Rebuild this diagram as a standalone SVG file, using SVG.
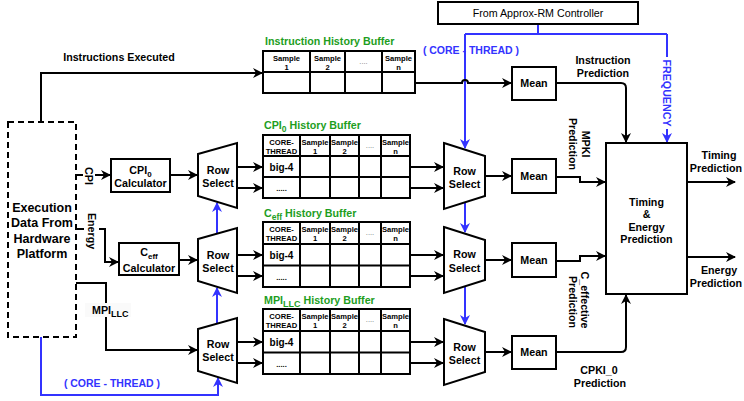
<svg xmlns="http://www.w3.org/2000/svg" width="744" height="401" viewBox="0 0 744 401">
<defs>
<marker id="ab" viewBox="0 0 10 10" refX="9" refY="5" markerWidth="10" markerHeight="10" markerUnits="userSpaceOnUse" orient="auto"><path d="M0,0 L10,5 L0,10 L3,5 z" fill="#000"/></marker>
<marker id="au" viewBox="0 0 10 10" refX="9" refY="5" markerWidth="10" markerHeight="10" markerUnits="userSpaceOnUse" orient="auto"><path d="M0,0 L10,5 L0,10 L3,5 z" fill="#3333ff"/></marker>
<style>
.ln{fill:none;stroke:#000;stroke-width:2}
.bl{fill:none;stroke:#3333ff;stroke-width:2}
.box{fill:#fff;stroke:#000;stroke-width:2}
.t{font-family:"Liberation Sans",Arial,sans-serif;font-weight:bold;font-size:10.7px;text-anchor:middle;fill:#000}
.r{font-family:"Liberation Sans",Arial,sans-serif;font-size:10.7px;text-anchor:middle;fill:#000}
.g{font-family:"Liberation Sans",Arial,sans-serif;font-weight:bold;font-size:10.7px;fill:#1e9e1e}
.h{font-family:"Liberation Sans",Arial,sans-serif;font-weight:bold;font-size:7.6px;text-anchor:middle;fill:#000}
.d{font-family:"Liberation Sans",Arial,sans-serif;font-size:7.6px;text-anchor:middle;fill:#777}
.b{font-family:"Liberation Sans",Arial,sans-serif;font-weight:bold;font-size:10.5px;text-anchor:middle;fill:#3333ff}
.x{font-family:"Liberation Sans",Arial,sans-serif;font-weight:bold;font-size:12.5px;text-anchor:middle;fill:#000}
</style>
</defs>
<rect width="744" height="401" fill="#fff"/>

<g id="connectors">
<path class="ln" d="M41,122 V73 H262" marker-end="url(#ab)"/>
<path class="ln" d="M76,175 H83"/>
<path class="ln" d="M95,175 H110" marker-end="url(#ab)"/>
<path class="ln" d="M170,175 H197" marker-end="url(#ab)"/>
<path class="ln" d="M76,229 H84"/>
<path class="ln" d="M99,229 H105 V262 H118" marker-end="url(#ab)"/>
<path class="ln" d="M179,260 H197" marker-end="url(#ab)"/>
<path class="ln" d="M76,283 H106 V350 H197" marker-end="url(#ab)"/>
<path class="ln" d="M237,167 H262" marker-end="url(#ab)"/>
<path class="ln" d="M237,188 H262" marker-end="url(#ab)"/>
<path class="ln" d="M237,255 H262" marker-end="url(#ab)"/>
<path class="ln" d="M237,276 H262" marker-end="url(#ab)"/>
<path class="ln" d="M237,342 H262" marker-end="url(#ab)"/>
<path class="ln" d="M237,363 H262" marker-end="url(#ab)"/>
<path class="ln" d="M410,167 H443" marker-end="url(#ab)"/>
<path class="ln" d="M410,188 H443" marker-end="url(#ab)"/>
<path class="ln" d="M410,255 H443" marker-end="url(#ab)"/>
<path class="ln" d="M410,276 H443" marker-end="url(#ab)"/>
<path class="ln" d="M410,342 H443" marker-end="url(#ab)"/>
<path class="ln" d="M410,363 H443" marker-end="url(#ab)"/>
<path class="ln" d="M485,176 H511" marker-end="url(#ab)"/>
<path class="ln" d="M485,260 H511" marker-end="url(#ab)"/>
<path class="ln" d="M485,352 H511" marker-end="url(#ab)"/>
<path class="ln" d="M556,177 H580 V182 H605" marker-end="url(#ab)"/>
<path class="ln" d="M556,261 H580 V256 H605" marker-end="url(#ab)"/>
<path class="ln" d="M556,83 H621 Q626,83 626,88 V142" marker-end="url(#ab)"/>
<path class="ln" d="M556,352 H621 Q626,352 626,347 V295" marker-end="url(#ab)"/>
<path class="ln" d="M687,182 H735" marker-end="url(#ab)"/>
<path class="ln" d="M687,257 H735" marker-end="url(#ab)"/>
<path class="bl" d="M538,24 V34 M465,34 H667"/>
<path class="bl" d="M465,34 V148" marker-end="url(#au)"/>
<path class="bl" d="M667,34 V142" marker-end="url(#au)"/>
<path class="bl" d="M465,203 V232" marker-end="url(#au)"/>
<path class="bl" d="M465,287 V324" marker-end="url(#au)"/>
<path class="bl" d="M217,323 V288" marker-end="url(#au)"/>
<path class="bl" d="M217,233 V203" marker-end="url(#au)"/>
<path class="bl" d="M41,337 V395 H218 V378" marker-end="url(#au)"/>
<path class="ln" d="M415,83 H462 A3,3 0 0 1 468,83 H511" marker-end="url(#ab)"/>
</g>

<g id="labels">
<text class="t" x="119" y="61">Instructions Executed</text>
<text class="t" transform="translate(89,176) rotate(90)" x="0" y="3.8">CPI</text>
<text class="t" transform="translate(92,231) rotate(90)" x="0" y="3.8">Energy</text>
<rect x="85" y="303" width="46" height="14" fill="#fafafa"/>
<text class="t" x="92" y="314" style="text-anchor:start">MPI<tspan font-size="9" dy="3">LLC</tspan></text>
<text class="b" x="112" y="387">( CORE - THREAD )</text>
<text class="b" x="471" y="54">( CORE - THREAD )</text>
<rect x="660" y="57" width="14" height="72" fill="#fff"/>
<text class="b" transform="translate(667,93) rotate(90)" x="0" y="3.8" style="font-size:10.7px">FREQUENCY</text>
<text class="t" x="603" y="64">Instruction</text>
<text class="t" x="603" y="77">Prediction</text>
<text class="t" transform="translate(586,144) rotate(90)" x="0" y="3.8">MPKI</text>
<text class="t" transform="translate(573,144) rotate(90)" x="0" y="3.8">Prediction</text>
<text class="t" transform="translate(585,300) rotate(90)" x="0" y="3.8">C_effective</text>
<text class="t" transform="translate(573,302) rotate(90)" x="0" y="3.8">Prediction</text>
<text class="t" x="599" y="374">CPKI_0</text>
<text class="t" x="600" y="387">Prediction</text>
<text class="t" x="719" y="159">Timing</text>
<text class="t" x="716" y="172">Prediction</text>
<text class="t" x="719" y="274">Energy</text>
<text class="t" x="716" y="287">Prediction</text>
</g>

<g id="exec">
<rect x="8" y="122" width="68" height="215" fill="#fff" stroke="#000" stroke-width="2" stroke-dasharray="6,4"/>
<text class="x" x="42" y="211.5">Execution</text>
<text class="x" x="42" y="227">Data From</text>
<text class="x" x="42" y="242.5">Hardware</text>
<text class="x" x="42" y="258">Platform</text>
</g>

<g id="controller">
<rect class="box" x="438" y="2" width="200" height="22"/>
<text class="r" x="538" y="17.3">From Approx-RM Controller</text>
</g>

<g id="cpi-calc">
<rect class="box" x="111" y="159" width="59" height="33"/>
<text class="t" x="140.5" y="173.5">CPI<tspan font-size="8" dy="3">0</tspan></text>
<text class="t" x="140.5" y="187">Calculator</text>
</g>

<g id="ceff-calc">
<rect class="box" x="119" y="243" width="60" height="32"/>
<text class="t" x="149" y="256">C<tspan font-size="8" dy="3">eff</tspan></text>
<text class="t" x="149" y="272">Calculator</text>
</g>

<g id="rs-l1">
<polygon class="box" points="198,154 237,143 237,208 198,196"/>
<text class="t" x="218" y="174">Row</text>
<text class="t" x="218" y="186.5">Select</text>
</g>
<g id="rs-l2">
<polygon class="box" points="198,239 237,228 237,293 198,281"/>
<text class="t" x="218" y="258.5">Row</text>
<text class="t" x="218" y="271.5">Select</text>
</g>
<g id="rs-l3">
<polygon class="box" points="198,329 237,318 237,383 198,371"/>
<text class="t" x="218" y="348">Row</text>
<text class="t" x="218" y="361">Select</text>
</g>

<g id="instr-buffer">
<text class="g" x="265" y="45">Instruction History Buffer</text>
<rect class="box" x="263" y="51" width="152" height="42"/>
<path class="ln" d="M263,72 H415 M310,51 V93 M345,51 V93 M382,51 V93"/>
<text class="h" x="286.5" y="61">Sample</text><text class="h" x="286.5" y="70">1</text>
<text class="h" x="327.5" y="61">Sample</text><text class="h" x="327.5" y="70">2</text>
<text class="d" x="363.5" y="64">....</text>
<text class="h" x="398.5" y="61">Sample</text><text class="h" x="398.5" y="70">n</text>
</g>

<g id="cpi-buffer">
<text class="g" x="264" y="129">CPI<tspan font-size="8.5" dy="3">0</tspan><tspan dy="-3"> History Buffer</tspan></text>
<rect class="box" x="263" y="135" width="147" height="63"/>
<path class="ln" d="M263,156 H410 M263,177 H410 M300,135 V198 M330,135 V198 M359,135 V198 M381,135 V198"/>
<text class="h" x="281.5" y="145">CORE-</text><text class="h" x="281.5" y="154">THREAD</text>
<text class="h" x="315" y="145">Sample</text><text class="h" x="315" y="154">1</text>
<text class="h" x="344.5" y="145">Sample</text><text class="h" x="344.5" y="154">2</text>
<text class="d" x="370" y="148">....</text>
<text class="h" x="395.5" y="145">Sample</text><text class="h" x="395.5" y="154">n</text>
<text class="t" x="281.5" y="170.5" style="font-size:10px">big-4</text>
<text class="h" x="281.5" y="191">.....</text>
</g>

<g id="ceff-buffer">
<text class="g" x="264" y="217">C<tspan font-size="8.5" dy="3">eff</tspan><tspan dy="-3"> History Buffer</tspan></text>
<rect class="box" x="263" y="222" width="147" height="65"/>
<path class="ln" d="M263,244 H410 M263,265.5 H410 M300,222 V287 M330,222 V287 M359,222 V287 M381,222 V287"/>
<text class="h" x="281.5" y="232">CORE-</text><text class="h" x="281.5" y="241">THREAD</text>
<text class="h" x="315" y="232">Sample</text><text class="h" x="315" y="241">1</text>
<text class="h" x="344.5" y="232">Sample</text><text class="h" x="344.5" y="241">2</text>
<text class="d" x="370" y="235">....</text>
<text class="h" x="395.5" y="232">Sample</text><text class="h" x="395.5" y="241">n</text>
<text class="t" x="281.5" y="258.5" style="font-size:10px">big-4</text>
<text class="h" x="281.5" y="280">.....</text>
</g>

<g id="mpi-buffer">
<text class="g" x="264" y="304">MPI<tspan font-size="9" dy="3">LLC</tspan><tspan dy="-3"> History Buffer</tspan></text>
<rect class="box" x="263" y="309" width="147" height="65"/>
<path class="ln" d="M263,331 H410 M263,352.5 H410 M300,309 V374 M330,309 V374 M359,309 V374 M381,309 V374"/>
<text class="h" x="281.5" y="319">CORE-</text><text class="h" x="281.5" y="328">THREAD</text>
<text class="h" x="315" y="319">Sample</text><text class="h" x="315" y="328">1</text>
<text class="h" x="344.5" y="319">Sample</text><text class="h" x="344.5" y="328">2</text>
<text class="d" x="370" y="322">....</text>
<text class="h" x="395.5" y="319">Sample</text><text class="h" x="395.5" y="328">n</text>
<text class="t" x="281.5" y="345.5" style="font-size:10px">big-4</text>
<text class="h" x="281.5" y="367">.....</text>
</g>

<g id="rs-r1">
<polygon class="box" points="444,143 485,156 485,196 444,209"/>
<text class="t" x="464.5" y="175">Row</text>
<text class="t" x="464.5" y="187.5">Select</text>
</g>
<g id="rs-r2">
<polygon class="box" points="444,227 485,240 485,280 444,293"/>
<text class="t" x="464.5" y="258">Row</text>
<text class="t" x="464.5" y="272">Select</text>
</g>
<g id="rs-r3">
<polygon class="box" points="444,319 485,332 485,372 444,385"/>
<text class="t" x="464.5" y="351">Row</text>
<text class="t" x="464.5" y="364">Select</text>
</g>

<g id="mean-i">
<rect class="box" x="512" y="67" width="44" height="33"/>
<text class="t" x="534" y="87.3">Mean</text>
</g>
<g id="mean-1">
<rect class="box" x="512" y="159" width="44" height="34"/>
<text class="t" x="534" y="179.8">Mean</text>
</g>
<g id="mean-2">
<rect class="box" x="512" y="243" width="44" height="34"/>
<text class="t" x="534" y="263.8">Mean</text>
</g>
<g id="mean-3">
<rect class="box" x="512" y="336" width="44" height="33"/>
<text class="t" x="534" y="356.3">Mean</text>
</g>

<g id="predictor">
<rect class="box" x="606" y="143" width="81" height="151"/>
<text class="t" x="646.5" y="206">Timing</text>
<text class="t" x="646.5" y="218">&amp;</text>
<text class="t" x="646.5" y="231">Energy</text>
<text class="t" x="646.5" y="243">Prediction</text>
</g>
</svg>
